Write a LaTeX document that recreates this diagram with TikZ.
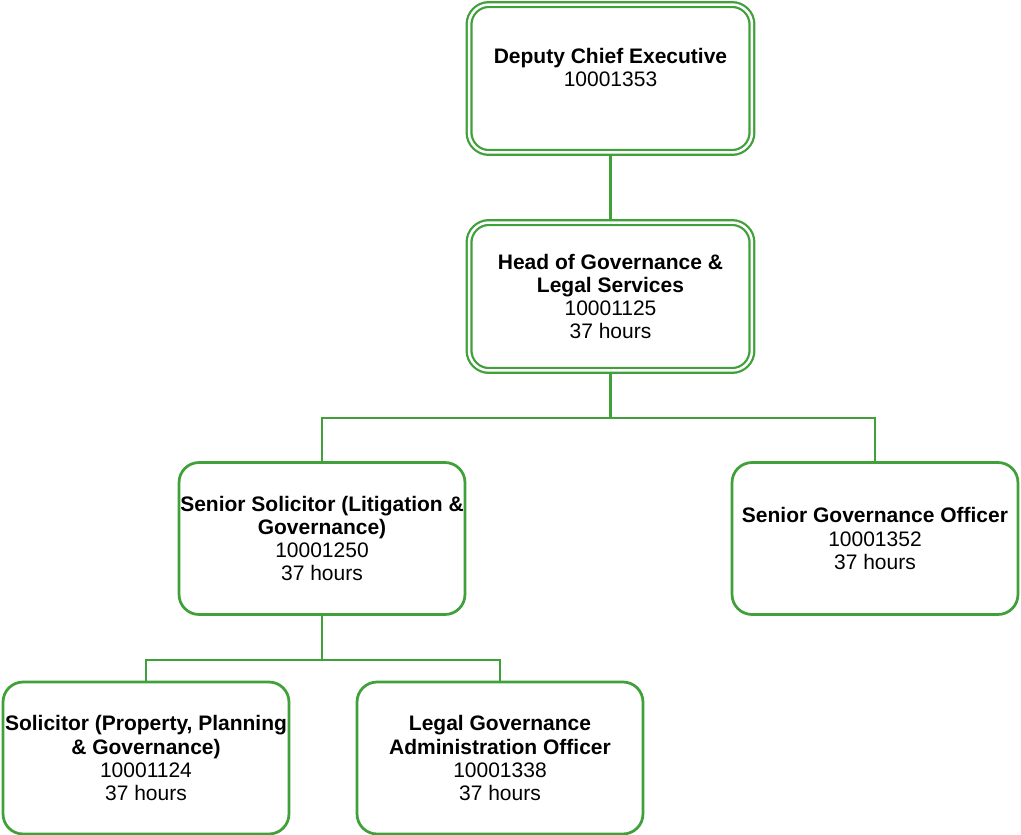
\documentclass[tikz,border=0pt]{standalone}
\usepackage{fontspec}
\setmainfont{Liberation Sans}
\usetikzlibrary{calc}
\definecolor{boxgreen}{RGB}{64,160,58}
\tikzset{
  role/.style={draw=boxgreen, line width=0.055cm, rounded corners=0.4cm, fill=white,
    minimum width=5.72cm, minimum height=3.04cm, inner sep=0pt, align=center,
    font=\fontsize{11.95}{13.1}\selectfont},
  headrole/.style={role, line width=0.045cm, double=white, double distance=0.05cm,
    minimum width=5.66cm, minimum height=2.96cm},
  link/.style={draw=boxgreen, line width=0.055cm}
}
\begin{document}
\begin{tikzpicture}[x=0.02cm, y=-0.02cm]

\useasboundingbox (0,0) rectangle (1021,835);

% top of the chart
 \node[headrole] (dce) at (610.5, 78.5) {\textbf{Deputy Chief Executive}\\10001353\\ \mbox{}};
 \node[headrole] (head) at (610.5, 296.5) {\textbf{Head of Governance \&}\\\textbf{Legal Services}\\10001125\\37 hours};

% second row
 \node[role] (ss) at (322, 538.5) {\textbf{Senior Solicitor (Litigation \&}\\\textbf{Governance)}\\10001250\\37 hours};
 \node[role] (sgo) at (875, 538.5) {\textbf{Senior Governance Officer}\\10001352\\37 hours};

% third row
 \node[role] (sol) at (146, 758) {\textbf{Solicitor (Property, Planning}\\\textbf{\& Governance)}\\10001124\\37 hours};
 \node[role] (lgao) at (500, 758) {\textbf{Legal Governance}\\\textbf{Administration Officer}\\10001338\\37 hours};

 \coordinate (bus1) at (610.5, 418);
 \coordinate (bus2) at (322, 660);

\draw [link] (dce) -- (head);
\draw [link] (head) -- (bus1);
\draw [link] (ss.north) |- (bus1) -| (sgo.north);
\draw [link] (ss) -- (bus2);
\draw [link] (sol.north) |- (bus2) -| (lgao.north);

\end{tikzpicture}
\end{document}
